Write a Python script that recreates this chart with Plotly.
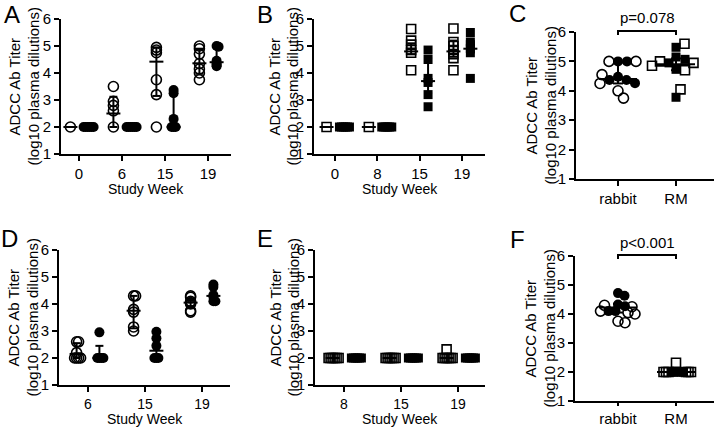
import math
import plotly.graph_objects as go

W, H = 714, 428
FONT = "Liberation Sans, Arial, Helvetica, sans-serif"

# ------------------------------------------------------------------ data
# Panel A - rabbits (circles), open = group 1, filled = group 2
A_weeks = ["0", "6", "15", "19"]
A_open = [[2.0], [3.5, 2.95, 2.8, 2.6, 2.0], [4.95, 4.85, 4.75, 3.75, 3.2, 2.0],
          [5.0, 4.9, 4.7, 4.35, 4.15, 4.0, 3.75]]
A_open_med = [2.0, 2.5, 4.42, 4.36]
A_open_lo = [2.0, 2.0, 3.15, 3.97]
A_open_hi = [2.0, 3.12, 4.95, 4.9]
A_fill = [[2.0] * 6, [2.0] * 6, [3.37, 3.25, 2.3, 2.0, 2.0, 2.0],
          [5.0, 4.97, 4.45, 4.35, 4.3, 4.25]]
A_fill_med = [2.0, 2.0, 2.0, 4.4]
A_fill_lo = [2.0, 2.0, 2.0, 4.33]
A_fill_hi = [2.0, 2.0, 3.25, 4.97]

# Panel B - rhesus macaques (squares)
B_weeks = ["0", "8", "15", "19"]
B_open = [[2.0], [2.0], [5.63, 5.2, 5.05, 4.85, 4.75, 4.1],
          [5.65, 5.15, 5.0, 4.85, 4.7, 4.55, 4.1]]
B_open_med = [2.0, 2.0, 4.8, 4.8]
B_open_lo = [2.0, 2.0, 4.7, 4.6]
B_open_hi = [2.0, 2.0, 5.1, 5.2]
B_fill = [[2.0] * 6, [2.0] * 6, [4.85, 4.5, 3.8, 3.65, 3.2, 2.75],
          [5.5, 5.15, 5.05, 4.9, 4.75, 3.8]]
B_fill_med = [2.0, 2.0, 3.7, 4.9]
B_fill_lo = [2.0, 2.0, 3.25, 4.75]
B_fill_hi = [2.0, 2.0, 4.55, 5.1]

# Panel C - rabbit vs RM
C_groups = ["rabbit", "RM"]
C_rabbit_open = [5.0, 5.0, 4.55, 4.25, 4.0, 3.75]
C_rabbit_fill = [5.0, 5.0, 4.48, 4.37, 4.37, 4.26]
C_rm_open = [5.6, 5.0, 4.95, 4.85, 4.7, 4.05]
C_rm_fill = [5.48, 5.15, 5.07, 4.95, 4.73, 3.78]
C_med = [4.4, 4.9]
C_lo = [4.25, 4.7]
C_hi = [4.97, 5.1]
C_pvalue = "p=0.078"

# Panel D - rabbits (circles)
D_weeks = ["6", "15", "19"]
D_open = [[2.6, 2.6, 2.2, 2.0, 2.0, 2.0, 2.0], [4.3, 4.3, 3.8, 3.7, 3.15, 3.0],
          [4.3, 4.25, 4.1, 4.05, 4.0, 3.75, 3.7]]
D_open_med = [2.15, 3.75, 4.05]
D_open_lo = [2.0, 3.1, 3.85]
D_open_hi = [2.55, 4.3, 4.2]
D_fill = [[2.95, 2.0, 2.0, 2.0, 2.0], [2.97, 2.73, 2.45, 2.0, 2.0, 2.0],
          [4.72, 4.63, 4.33, 4.27, 4.1, 4.1]]
D_fill_med = [2.0, 2.27, 4.3]
D_fill_lo = [2.0, 2.0, 4.1]
D_fill_hi = [2.45, 2.75, 4.65]

# Panel E - rhesus macaques (squares)
E_weeks = ["8", "15", "19"]
E_open = [[2.0] * 6, [2.0] * 6, [2.32, 2.0, 2.0, 2.0, 2.0, 2.0, 2.0]]
E_open_med = [2.0, 2.0, 2.0]
E_open_lo = [2.0, 2.0, 2.0]
E_open_hi = [2.0, 2.0, 2.0]
E_fill = [[2.0] * 6, [2.0] * 6, [2.0] * 6]
E_fill_med = [2.0, 2.0, 2.0]
E_fill_lo = [2.0, 2.0, 2.0]
E_fill_hi = [2.0, 2.0, 2.0]

# Panel F - rabbit vs RM (week 19)
F_groups = ["rabbit", "RM"]
F_rabbit_open = [4.3, 4.25, 4.1, 4.05, 4.0, 3.75, 3.7]
F_rabbit_fill = [4.72, 4.63, 4.33, 4.27, 4.1, 4.1]
F_rm_open = [2.32, 2.0, 2.0, 2.0, 2.0, 2.0, 2.0]
F_rm_fill = [2.0, 2.0, 2.0, 2.0, 2.0, 2.0]
F_med = [4.22, 2.0]
F_lo = [4.05, 2.0]
F_hi = [4.35, 2.0]
F_pvalue = "p<0.001"

Y_TICKS = [1, 2, 3, 4, 5, 6]
Y_TITLE_LINES = ["ADCC Ab Titer", "(log10 plasma dilutions)"]
X_TITLE = "Study Week"

# ------------------------------------------------------------------ geometry (px)
GEOM = {
    "A": dict(x0=61, x1=231, ytop=19, ybot=154, tick0=79, step=43, letter=(12, 15),
              ytx=(14, 33), xty=35),
    "B": dict(x0=314, x1=485, ytop=19, ybot=154, tick0=335, step=42.3, letter=(265, 15),
              ytx=(274, 292), xty=35),
    "C": dict(x0=576, x1=714, ytop=32, ybot=179, tick0=618, step=58, letter=(517, 14),
              ytx=(531, 550), xty=0),
    "D": dict(x0=59, x1=230, ytop=250, ybot=385, tick0=88, step=57, letter=(9, 238),
              ytx=(13, 32), xty=34),
    "E": dict(x0=315, x1=485, ytop=250, ybot=385, tick0=344, step=57, letter=(265, 238),
              ytx=(275, 293), xty=34),
    "F": dict(x0=575, x1=714, ytop=256, ybot=401, tick0=618, step=58, letter=(517, 240),
              ytx=(530, 549), xty=0),
}
ORDER = ["A", "B", "C", "D", "E", "F"]

fig = go.Figure()
annotations = []
shapes = []


def px2paper(xp, yp):
    return xp / W, 1 - yp / H


def swarm(vals, d, dy_thr, ypu):
    cands = [0.0]
    for i in range(1, 400):
        cands += [i * 0.5, -i * 0.5]
    placed, offs = [], []
    for v in vals:
        y = v * ypu
        chosen = 0.0
        for c in cands:
            ok = True
            for (qx, qy) in placed:
                dy = y - qy
                if abs(dy) < dy_thr and math.hypot(c - qx, dy) < d - 1e-6:
                    ok = False
                    break
            if ok:
                chosen = c
                break
        placed.append((chosen, y))
        offs.append(chosen)
    return offs


def marker(shape, filled):
    size = 10 if shape == "circle" else 9
    if filled:
        return dict(symbol=shape, size=size, color="black", line=dict(width=0))
    return dict(symbol=shape + "-open", size=size, color="black", line=dict(width=1.6))


def summary_lines(centers, med, lo, hi, g, mhalf_px, chalf_px):
    xs, ys = [], []
    mh = mhalf_px / g["step"]
    ch = chalf_px / g["step"]
    for cx, m, l, h in zip(centers, med, lo, hi):
        xs += [cx - mh, cx + mh, None]
        ys += [m, m, None]
        if h - l > 1e-6:
            xs += [cx, cx, None, cx - ch, cx + ch, None, cx - ch, cx + ch, None]
            ys += [l, h, None, h, h, None, l, l, None]
    return xs, ys


def add_points(k, xs, ys, shape, filled):
    fig.add_trace(go.Scatter(x=xs, y=ys, mode="markers", marker=marker(shape, filled),
                             xaxis="x" + k, yaxis="y" + k, showlegend=False,
                             hoverinfo="skip", cliponaxis=False))


def add_lines(k, xs, ys):
    fig.add_trace(go.Scatter(x=xs, y=ys, mode="lines", line=dict(color="black", width=2),
                             xaxis="x" + k, yaxis="y" + k, showlegend=False,
                             hoverinfo="skip", connectgaps=False))


def grouped_panel(key, shape, opens, fills, omed, olo, ohi, fmed, flo, fhi, d=2.0):
    g = GEOM[key]
    ypu = (g["ybot"] - g["ytop"]) / 5.0
    k = str(ORDER.index(key) + 1)
    for filled, groups in ((True, fills), (False, opens)):
        xs, ys = [], []
        for i, vals in enumerate(groups):
            base = i + (0.2 if filled else -0.2)
            offs = swarm(vals, d, 1.0, ypu)
            xs += [base + o / g["step"] for o in offs]
            ys += list(vals)
        add_points(k, xs, ys, shape, filled)
    lx, ly = [], []
    for sign, med, lo, hi in ((-1, omed, olo, ohi), (1, fmed, flo, fhi)):
        centers = [i + sign * 0.2 for i in range(len(med))]
        a, b = summary_lines(centers, med, lo, hi, g, 7, 4)
        lx += a
        ly += b
    add_lines(k, lx, ly)


def compare_panel(key, cols, med, lo, hi, ds):
    g = GEOM[key]
    ypu = (g["ybot"] - g["ytop"]) / 5.0
    k = str(ORDER.index(key) + 1)
    for ci, (shape, fill_vals, open_vals) in enumerate(cols):
        allv = [(v, True) for v in fill_vals] + [(v, False) for v in open_vals]
        offs = swarm([v for v, _ in allv], ds[ci][0], ds[ci][1], ypu)
        for flag in (True, False):
            xs = [ci + o / g["step"] for (v, f), o in zip(allv, offs) if f == flag]
            ys = [v for (v, f) in allv if f == flag]
            add_points(k, xs, ys, shape, flag)
    a, b = summary_lines([0, 1], med, lo, hi, g, 19, 5)
    add_lines(k, a, b)


grouped_panel("A", "circle", A_open, A_fill, A_open_med, A_open_lo, A_open_hi,
              A_fill_med, A_fill_lo, A_fill_hi)
grouped_panel("B", "square", B_open, B_fill, B_open_med, B_open_lo, B_open_hi,
              B_fill_med, B_fill_lo, B_fill_hi)
compare_panel("C", [("circle", C_rabbit_fill, C_rabbit_open), ("square", C_rm_fill, C_rm_open)],
              C_med, C_lo, C_hi, [(9.0, 9.0), (9.0, 9.0)])
grouped_panel("D", "circle", D_open, D_fill, D_open_med, D_open_lo, D_open_hi,
              D_fill_med, D_fill_lo, D_fill_hi)
grouped_panel("E", "square", E_open, E_fill, E_open_med, E_open_lo, E_open_hi,
              E_fill_med, E_fill_lo, E_fill_hi)
compare_panel("F", [("circle", F_rabbit_fill, F_rabbit_open), ("square", F_rm_fill, F_rm_open)],
              F_med, F_lo, F_hi, [(7.0, 7.0), (2.5, 1.0)])

labels = {"A": A_weeks, "B": B_weeks, "C": C_groups, "D": D_weeks, "E": E_weeks, "F": F_groups}
pvals = {"C": C_pvalue, "F": F_pvalue}

layout = dict(template="none", width=W, height=H, margin=dict(l=0, r=0, t=0, b=0, pad=0),
              autosize=False, paper_bgcolor="white", plot_bgcolor="white",
              font=dict(family=FONT, size=14, color="black"), showlegend=False)

for i, key in enumerate(ORDER):
    g = GEOM[key]
    n = str(i + 1)
    sfx = "" if i == 0 else n
    xr = [(g["x0"] - g["tick0"]) / g["step"], (g["x1"] - g["tick0"]) / g["step"]]
    small = key == "F"
    layout["xaxis" + sfx] = dict(
        domain=[g["x0"] / W, g["x1"] / W], range=xr, anchor="y" + n,
        tickmode="array", tickvals=list(range(len(labels[key]))), ticktext=labels[key],
        ticks="outside", ticklen=3 if small else 5, tickwidth=2, tickcolor="black",
        showline=True, linewidth=2, linecolor="black", showgrid=False, zeroline=False,
        automargin=False,
        tickfont=dict(family=FONT, size=14 if key in ("D", "E") else 15, color="black"),
        fixedrange=True)
    layout["yaxis" + sfx] = dict(
        domain=[1 - g["ybot"] / H, 1 - g["ytop"] / H], range=[1, 6], anchor="x" + n,
        tickmode="array", tickvals=Y_TICKS, ticktext=[str(t) for t in Y_TICKS],
        ticks="outside", ticklen=5, tickwidth=2, tickcolor="black",
        showline=True, linewidth=2, linecolor="black", showgrid=False, zeroline=False,
        automargin=False,
        tickfont=dict(family=FONT, size=15, color="black"), fixedrange=True)

    # panel letter
    lx, ly = px2paper(*g["letter"])
    annotations.append(dict(text=key, x=lx, y=ly, xref="paper", yref="paper",
                            xanchor="center", yanchor="middle", showarrow=False,
                            font=dict(family=FONT, size=24, color="black")))
    # y title (two lines)
    for line_text, cx in zip(Y_TITLE_LINES, g["ytx"]):
        tx, ty = px2paper(cx, (g["ytop"] + g["ybot"]) / 2)
        annotations.append(dict(text=line_text, x=tx, y=ty, xref="paper", yref="paper",
                                xanchor="center", yanchor="middle", showarrow=False,
                                textangle=-90,
                                font=dict(family=FONT, size=15, color="black")))
    if key in pvals:
        xa = g["tick0"]
        xb = g["tick0"] + g["step"]
        yb = g["ytop"] - 1
        (pa, qa), (pb, qb) = px2paper(xa, yb), px2paper(xb, yb)
        _, qd = px2paper(xa, yb + 4)
        shapes.append(dict(type="path", xref="paper", yref="paper",
                           path=f"M{pa},{qd} L{pa},{qa} L{pb},{qb} L{pb},{qd}",
                           line=dict(color="black", width=2)))
        mx, my = px2paper((xa + xb) / 2, yb - 13)
        annotations.append(dict(text=pvals[key], x=mx, y=my, xref="paper", yref="paper",
                                xanchor="center", yanchor="middle", showarrow=False,
                                font=dict(family=FONT, size=15, color="black")))
    else:
        sx, sy = px2paper((g["x0"] + g["x1"]) / 2, g["ybot"] + g["xty"])
        annotations.append(dict(text=X_TITLE, x=sx, y=sy, xref="paper", yref="paper",
                                xanchor="center", yanchor="middle", showarrow=False,
                                font=dict(family=FONT, size=14, color="black")))

layout["annotations"] = annotations
layout["shapes"] = shapes
fig.update_layout(**layout)
fig.write_html("out.html", config={"displayModeBar": False, "staticPlot": True},
               post_script="document.body.style.margin='0px';document.body.style.overflow='hidden';")
